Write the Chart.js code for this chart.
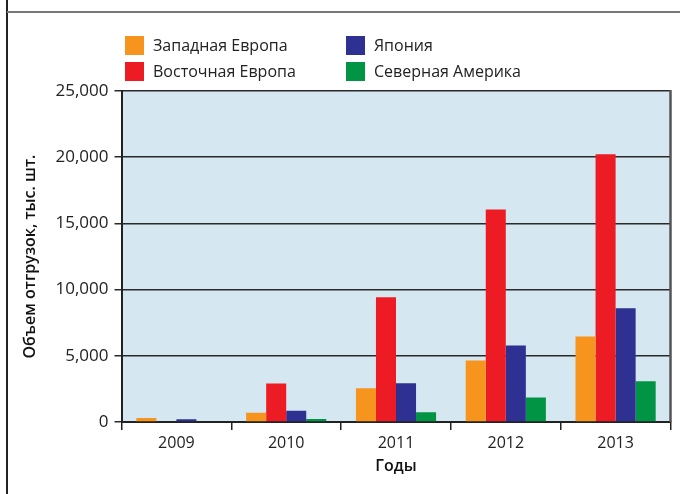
<!DOCTYPE html>
<html>
<head>
<meta charset="utf-8">
<script src="https://cdn.jsdelivr.net/npm/chart.js@4.4.1/dist/chart.umd.min.js"></script>
<style>
  html, body { margin: 0; padding: 0; background: #fff; }
  #wrap { position: relative; width: 680px; height: 494px; }
  #frameLeft { position: absolute; left: 6px; top: 0; width: 2px; height: 494px; background: #222; }
  #frameTop { position: absolute; left: 7px; top: 11px; width: 673px; height: 2px; background: #777; }
  canvas { position: absolute; left: 0; top: 0; }
</style>
</head>
<body>
<div id="wrap">
  <canvas id="chart" width="680" height="494"></canvas>
  <div id="frameLeft"></div>
  <div id="frameTop"></div>
</div>
<script>
// data
var years = ['2009', '2010', '2011', '2012', '2013'];
var westEurope = [300, 700, 2550, 4650, 6450];
var eastEurope = [50, 2900, 9420, 16050, 20230];
var japan = [200, 850, 2920, 5770, 8590];
var northAmerica = [0, 230, 730, 1850, 3080];
var seriesNames = ['Западная Европа', 'Восточная Европа', 'Япония', 'Северная Америка'];
var yTicks = [0, 5000, 10000, 15000, 20000, 25000];

var colors = ['#f7941d', '#ed1c24', '#2e3192', '#009444'];
var fontFamily = '"Open Sans", "Noto Sans", sans-serif';

// plot background + right border
var plotBg = {
  id: 'plotBg',
  beforeDraw: function (chart) {
    var a = chart.chartArea, ctx = chart.ctx;
    ctx.save();
    ctx.fillStyle = '#d5e7f1';
    ctx.fillRect(a.left, a.top, a.right - a.left, a.bottom - a.top);
    ctx.restore();
  },
  afterDraw: function (chart) {
    var a = chart.chartArea, ctx = chart.ctx;
    ctx.save();
    ctx.strokeStyle = '#555';
    ctx.lineWidth = 2.5;
    ctx.beginPath();
    ctx.moveTo(a.right, a.top - 1);
    ctx.lineTo(a.right, a.bottom);
    ctx.stroke();
    ctx.restore();
  }
};

// two column legend (column-major like the original)
var boxLegend = {
  id: 'boxLegend',
  afterDraw: function (chart) {
    var ctx = chart.ctx;
    var cols = [125, 346];
    var rows = [36, 62];
    ctx.save();
    ctx.font = '16px ' + fontFamily;
    ctx.textBaseline = 'middle';
    chart.data.datasets.forEach(function (ds, i) {
      var col = i < 2 ? 0 : 1;
      var row = i % 2;
      var x = cols[col], y = rows[row];
      ctx.fillStyle = ds.backgroundColor;
      ctx.fillRect(x, y, 19, 19);
      ctx.fillStyle = '#222';
      ctx.fillText(ds.label, x + 28, y + 10);
    });
    ctx.restore();
  }
};

var ctx = document.getElementById('chart').getContext('2d');
new Chart(ctx, {
  type: 'bar',
  data: {
    labels: years,
    datasets: [
      { label: seriesNames[0], data: westEurope, backgroundColor: colors[0] },
      { label: seriesNames[1], data: eastEurope, backgroundColor: colors[1] },
      { label: seriesNames[2], data: japan, backgroundColor: colors[2] },
      { label: seriesNames[3], data: northAmerica, backgroundColor: colors[3] }
    ]
  },
  options: {
    responsive: false,
    animation: false,
    layout: { padding: { top: 91, right: 9.5, left: 0, bottom: 0 } },
    datasets: { bar: { barPercentage: 1, categoryPercentage: 0.73 } },
    plugins: {
      legend: { display: false },
      tooltip: { enabled: false }
    },
    scales: {
      x: {
        grid: { drawOnChartArea: false, drawTicks: true, tickLength: 8, color: '#222', lineWidth: 1.5, offset: true },
        border: { color: '#222', width: 2 },
        ticks: { color: '#222', font: { family: fontFamily, size: 16 }, padding: 4 },
        title: { display: true, text: 'Годы', color: '#111', font: { family: fontFamily, size: 16, weight: '600' }, padding: { top: 4, bottom: 18 } },
        afterFit: function (scale) { scale.height = 72; }
      },
      y: {
        min: 0,
        max: 25000,
        afterBuildTicks: function (scale) {
          scale.ticks = yTicks.map(function (v) { return { value: v }; });
        },
        grid: { color: '#2a2a2a', lineWidth: 1.5, tickLength: 7 },
        border: { color: '#222', width: 2 },
        ticks: {
          color: '#222',
          font: { family: fontFamily, size: 17 },
          padding: 6,
          callback: function (v) { return v.toLocaleString('en-US'); }
        },
        title: { display: true, text: 'Объем отгрузок, тыс. шт.', color: '#111', font: { family: fontFamily, size: 16, weight: '600' }, padding: { top: 21, bottom: 0 } },
        afterFit: function (scale) { scale.width = 121.5; }
      }
    }
  },
  plugins: [plotBg, boxLegend]
});
</script>
</body>
</html>
